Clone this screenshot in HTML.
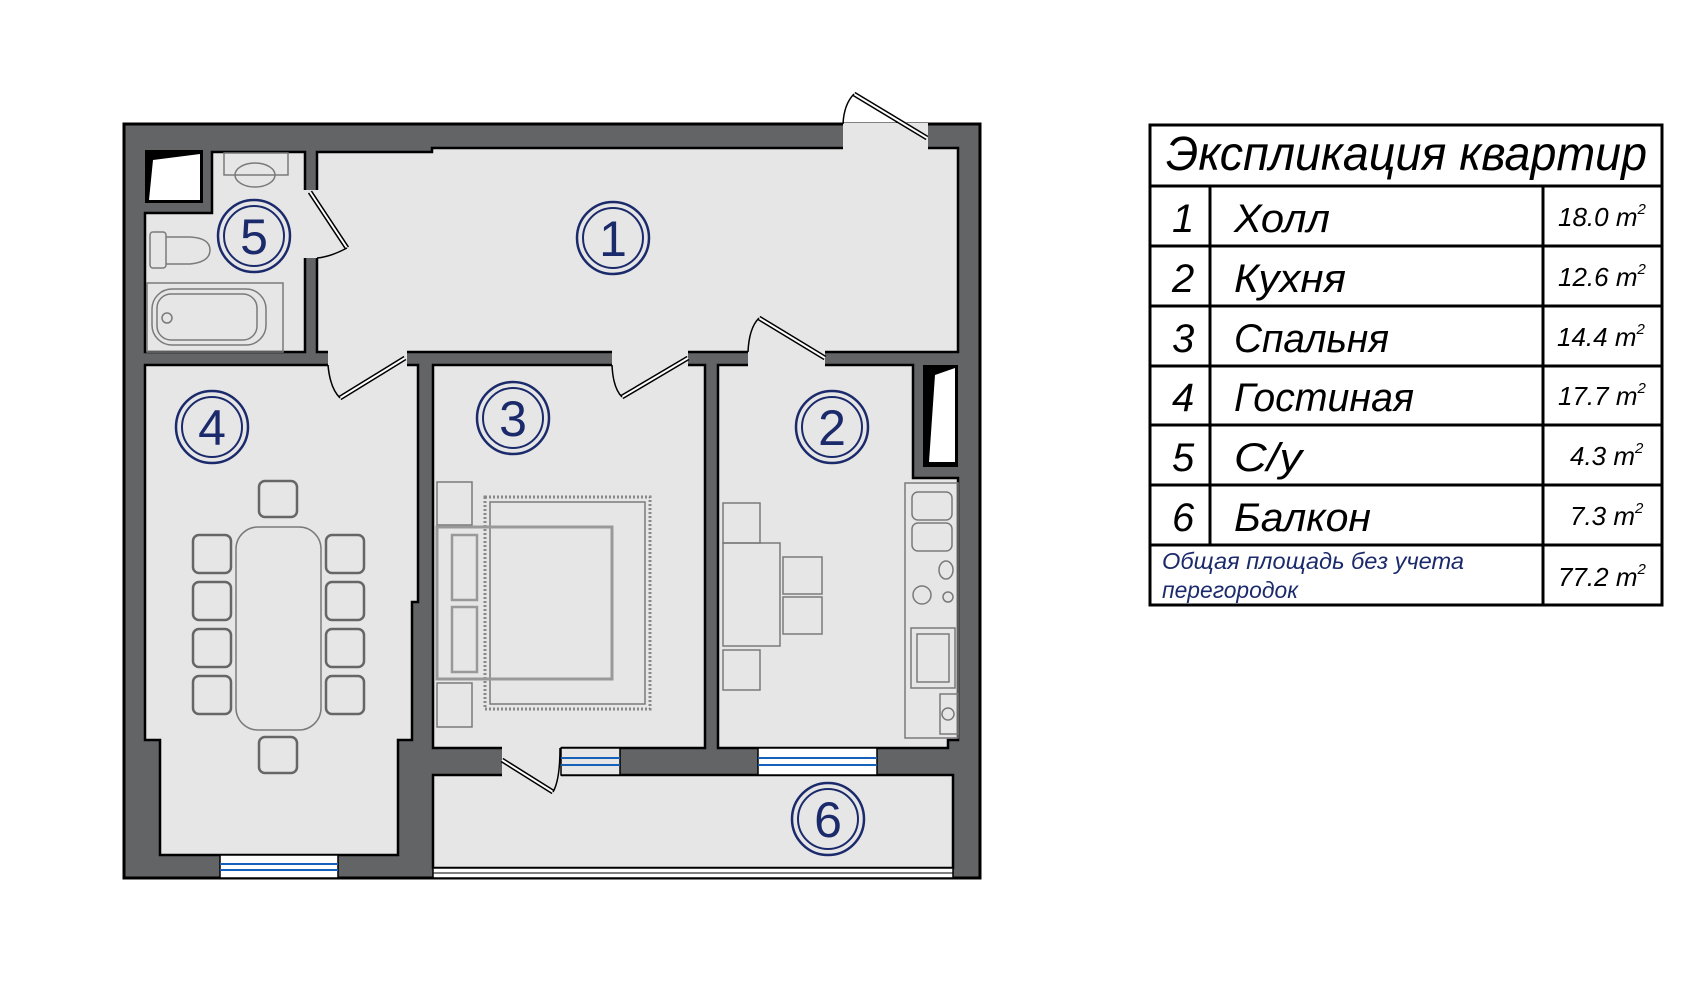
<!DOCTYPE html>
<html><head><meta charset="utf-8"><style>
html,body{margin:0;padding:0;background:#fff;}
svg{display:block;}
.t{font-family:"Liberation Sans Narrow","Liberation Sans","DejaVu Sans",sans-serif;font-style:italic;}
</style></head><body>
<svg width="1702" height="990" viewBox="0 0 1702 990" xmlns="http://www.w3.org/2000/svg">
<rect x="124" y="124" width="856" height="754" fill="#636466" stroke="#000" stroke-width="3"/>
<g fill="#e6e6e6" stroke="#000" stroke-width="2.5">
<path d="M212,152 H305 V352 H145 V213 H212 Z"/>
<path d="M317,152 H432 V148 H958 V352 H317 Z"/>
<path d="M145,365 H418 V602 H412 V740 H398 V855 H160 V740 H145 Z"/>
<rect x="433" y="365" width="272" height="383"/>
<path d="M718,365 H913 V478 H958 V740 H948 V748 H718 Z"/>
<rect x="433" y="775" width="520" height="93"/>
</g>
<g fill="#e6e6e6">
<rect x="303" y="190" width="16" height="68"/>
<rect x="328" y="350" width="79" height="17"/>
<rect x="612" y="350" width="76" height="17"/>
<rect x="748" y="350" width="77" height="17"/>
<rect x="843" y="123" width="85" height="29"/>
<rect x="502" y="746" width="59" height="31"/>
</g>
<rect x="433" y="868" width="520" height="10" fill="#fff" stroke="#000" stroke-width="1.5"/>
<line x1="433" y1="873" x2="953" y2="873" stroke="#000" stroke-width="1"/>
<rect x="145" y="150" width="58" height="53" fill="#000"/>
<path d="M153,160 L200,154 V200 H149 Z" fill="#fff"/>
<rect x="923" y="365" width="35" height="102" fill="#000"/>
<path d="M935,375 L955,368 V462 H929 Z" fill="#fff"/>
<g stroke="#000" stroke-width="1.5" fill="#fff">
<rect x="220" y="855" width="118" height="23"/>
<rect x="561" y="748" width="59" height="27" fill="#e6e6e6"/>
<rect x="758" y="748" width="119" height="27"/>
</g>
<g stroke="#1560b8" stroke-width="2">
<line x1="220" y1="864" x2="338" y2="864"/><line x1="220" y1="870" x2="338" y2="870"/>
<line x1="561" y1="758" x2="620" y2="758"/><line x1="561" y1="765" x2="620" y2="765"/>
<line x1="758" y1="758" x2="877" y2="758"/><line x1="758" y1="765" x2="877" y2="765"/>
</g>
<g stroke="#000" stroke-width="5" fill="none">
<line x1="854" y1="94" x2="927" y2="138"/>
<line x1="759" y1="318" x2="825" y2="358"/>
<line x1="622" y1="397" x2="688" y2="358"/>
<line x1="340" y1="398" x2="405" y2="358"/>
<line x1="310" y1="192" x2="347" y2="248"/>
<line x1="502" y1="760" x2="553" y2="792"/>
</g>
<g stroke="#fff" stroke-width="2" fill="none">
<line x1="854" y1="94" x2="927" y2="138"/>
<line x1="759" y1="318" x2="825" y2="358"/>
<line x1="622" y1="397" x2="688" y2="358"/>
<line x1="340" y1="398" x2="405" y2="358"/>
<line x1="310" y1="192" x2="347" y2="248"/>
<line x1="502" y1="760" x2="553" y2="792"/>
</g>
<g stroke="#000" stroke-width="1.5" fill="none">
<path d="M843,124 Q844,104 854,94"/>
<path d="M748,352 Q749,328 759,318"/>
<path d="M612,365 Q613,388 622,397"/>
<path d="M328,365 Q330,388 340,398"/>
<path d="M347,248 Q330,257 317,258"/>
<path d="M553,792 Q560,780 560,748"/>
</g>
<g stroke="#7a7a7a" stroke-width="1.5" fill="none">
<rect x="224" y="153" width="64" height="22"/>
<ellipse cx="255" cy="175" rx="20" ry="12"/>
<rect x="150" y="232" width="16" height="36" rx="3"/>
<path d="M166,237 H190 Q210,238 210,250 Q210,262 190,264 H166"/>
<rect x="147" y="283" width="136" height="69"/>
<rect x="152" y="289" width="114" height="56" rx="20"/>
<rect x="157" y="294" width="100" height="46" rx="14"/>
<circle cx="167" cy="318" r="5"/>
<rect x="236" y="527" width="85" height="203" rx="22"/>
<g stroke="#666" stroke-width="2.5">
<rect x="193" y="535" width="38" height="38" rx="6"/><rect x="193" y="582" width="38" height="38" rx="6"/>
<rect x="193" y="629" width="38" height="38" rx="6"/><rect x="193" y="676" width="38" height="38" rx="6"/>
<rect x="326" y="535" width="38" height="38" rx="6"/><rect x="326" y="582" width="38" height="38" rx="6"/>
<rect x="326" y="629" width="38" height="38" rx="6"/><rect x="326" y="676" width="38" height="38" rx="6"/>
<rect x="259" y="481" width="38" height="36" rx="6"/><rect x="259" y="737" width="38" height="36" rx="6"/>
</g>
<rect x="437" y="482" width="35" height="43"/><rect x="437" y="683" width="35" height="44"/>
<rect x="485" y="497" width="165" height="212" stroke="#888" stroke-width="3" stroke-dasharray="2 2"/>
<rect x="490" y="502" width="155" height="202"/>
<rect x="437" y="527" width="175" height="152" stroke="#999" stroke-width="3"/>
<rect x="452" y="535" width="25" height="65" stroke="#999" stroke-width="2.5"/>
<rect x="452" y="607" width="25" height="65" stroke="#999" stroke-width="2.5"/>
<rect x="723" y="543" width="57" height="103"/>
<rect x="723" y="503" width="37" height="40"/><rect x="723" y="650" width="37" height="40"/>
<rect x="783" y="557" width="39" height="37"/><rect x="783" y="597" width="39" height="37"/>
<rect x="905" y="483" width="53" height="255"/>
<rect x="912" y="492" width="40" height="28" rx="6"/><rect x="912" y="523" width="40" height="28" rx="6"/>
<circle cx="922" cy="595" r="9"/><circle cx="948" cy="597" r="5"/><ellipse cx="946" cy="570" rx="7" ry="9"/>
<rect x="911" y="628" width="44" height="60"/><rect x="917" y="634" width="32" height="48"/>
<rect x="940" y="694" width="18" height="40"/><circle cx="948" cy="714" r="6"/>
</g>
<g fill="none" stroke="#1b2a6b">
<g stroke-width="2.5"><circle cx="613" cy="238" r="36"/><circle cx="832" cy="427" r="36"/><circle cx="513" cy="418" r="36"/><circle cx="212" cy="427" r="36"/><circle cx="254" cy="236" r="36"/><circle cx="828" cy="819" r="36"/></g>
<g stroke-width="2"><circle cx="613" cy="238" r="30"/><circle cx="832" cy="427" r="30"/><circle cx="513" cy="418" r="30"/><circle cx="212" cy="427" r="30"/><circle cx="254" cy="236" r="30"/><circle cx="828" cy="819" r="30"/></g>
</g>
<g fill="#1b2a6b" font-family="'Liberation Sans Narrow','Liberation Sans',sans-serif" font-size="50" text-anchor="middle">
<text x="613" y="256">1</text><text x="832" y="445">2</text><text x="513" y="436">3</text>
<text x="212" y="445">4</text><text x="254" y="254">5</text><text x="828" y="837">6</text>
</g>
<g stroke="#000" stroke-width="3" fill="none">
<rect x="1150" y="125" width="512" height="480"/>
<line x1="1150" y1="186" x2="1662" y2="186"/>
<line x1="1150" y1="246" x2="1662" y2="246"/>
<line x1="1150" y1="306" x2="1662" y2="306"/>
<line x1="1150" y1="366" x2="1662" y2="366"/>
<line x1="1150" y1="425" x2="1662" y2="425"/>
<line x1="1150" y1="485" x2="1662" y2="485"/>
<line x1="1150" y1="545" x2="1662" y2="545"/>
<line x1="1210" y1="186" x2="1210" y2="545"/>
<line x1="1543" y1="186" x2="1543" y2="605"/>
</g>
<g class="t" fill="#000">
<text x="1166" y="170" font-size="48" textLength="481" lengthAdjust="spacingAndGlyphs">Экспликация квартир</text>
<g font-size="40">
<text x="1172" y="232">1</text><text x="1172" y="292">2</text><text x="1172" y="352">3</text>
<text x="1172" y="411">4</text><text x="1172" y="471">5</text><text x="1172" y="531">6</text>
<text x="1234" y="232" textLength="96" lengthAdjust="spacingAndGlyphs">Холл</text>
<text x="1234" y="292" textLength="112" lengthAdjust="spacingAndGlyphs">Кухня</text>
<text x="1234" y="352" textLength="155" lengthAdjust="spacingAndGlyphs">Спальня</text>
<text x="1234" y="411" textLength="180" lengthAdjust="spacingAndGlyphs">Гостиная</text>
<text x="1234" y="471" textLength="68" lengthAdjust="spacingAndGlyphs">С/у</text>
<text x="1234" y="531" textLength="137" lengthAdjust="spacingAndGlyphs">Балкон</text>
</g>
<g font-size="26">
<text x="1558" y="226">18.0 m<tspan font-size="15" dy="-12">2</tspan></text>
<text x="1558" y="286">12.6 m<tspan font-size="15" dy="-12">2</tspan></text>
<text x="1557" y="346">14.4 m<tspan font-size="15" dy="-12">2</tspan></text>
<text x="1558" y="405">17.7 m<tspan font-size="15" dy="-12">2</tspan></text>
<text x="1570" y="465">4.3 m<tspan font-size="15" dy="-12">2</tspan></text>
<text x="1570" y="525">7.3 m<tspan font-size="15" dy="-12">2</tspan></text>
<text x="1558" y="586">77.2 m<tspan font-size="15" dy="-12">2</tspan></text>
</g>
<g fill="#1b2a6b" font-size="23">
<text x="1162" y="569" textLength="302" lengthAdjust="spacingAndGlyphs">Общая площадь без учета</text>
<text x="1162" y="598" textLength="136" lengthAdjust="spacingAndGlyphs">перегородок</text>
</g>
</g>
</svg>
</body></html>
